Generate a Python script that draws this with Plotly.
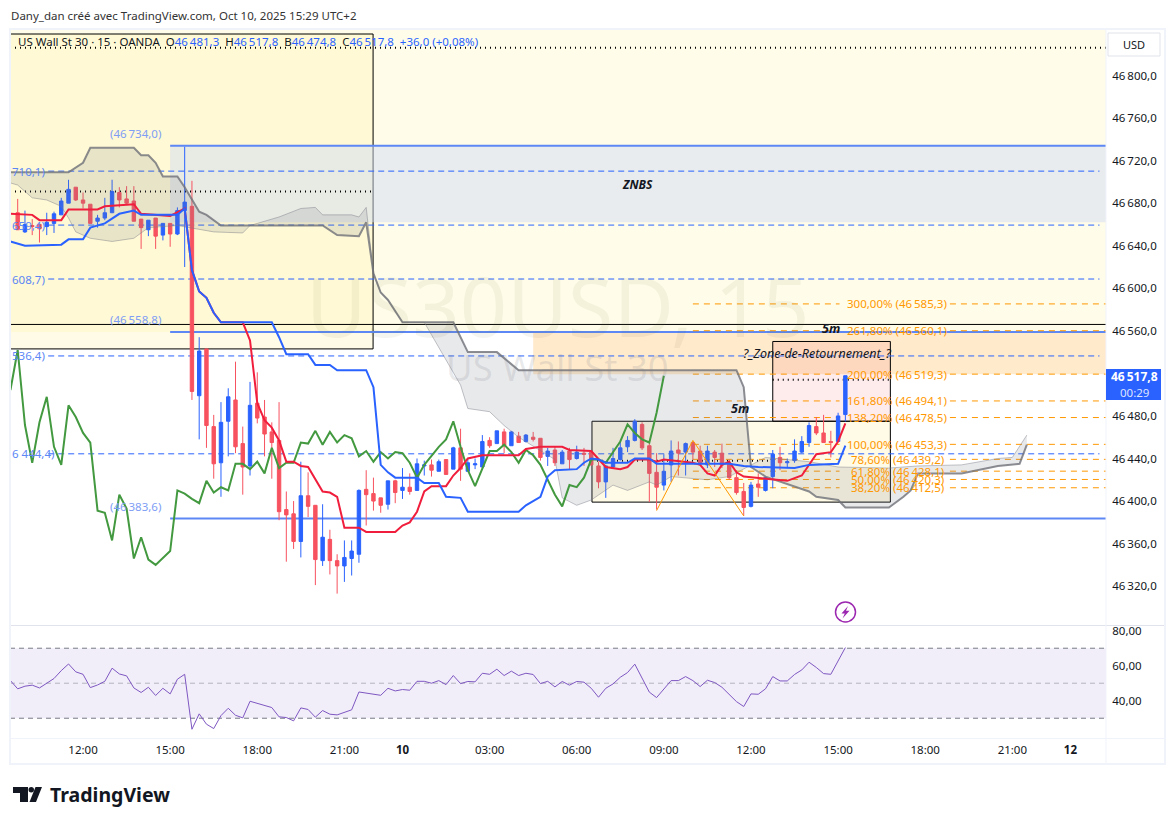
import plotly.graph_objects as go

W, H = 1175, 824
PRICE_BASE = 46000

# Bar index 0 is the 12:00 bar of Oct 9; first candle is index -9.
first_bar = -9
highs = [684,673,665,660,671,672,685,702,695,690,679,669,685,702,695,696,696,665,664,666,661,661,676,733,701,554,543,481,493,506,531,470,512,521,495,474,493,409,400,437,427,396,397,373,350,363,363,411,429,422,403,419,420,431,426,440,438,439,439,439,451,468,440,440,462,460,466,468,466,465,463,465,459,450,451,448,450,452,450,448,437,434,450,456,461,477,474,457,445,444,457,456,455,456,452,452,448,454,439,429,417,418,426,423,448,451,440,458,461,474,479,481,466,483,517.8]
body_tops = [671,660,659,660,662,670,682,693,695,683,679,666,671,691,690,684,682,665,664,666,661,661,673,681,677,541,543,470,474,498,495,454,490,492,479,465,457,392,388,405,405,396,366,364,344,347,353,410,411,407,403,419,419,413,413,435,434,434,437,439,450,450,436,435,456,457,466,465,465,461,462,460,459,447,448,446,447,446,445,446,433,433,440,450,457,475,472,452,427,428,447,448,454,455,447,447,446,445,435,422,409,415,416,422,444,441,437,447,456,471,470,464,456,480,517.8]
body_bottoms = [655,653,658,656,658,661,669,680,683,680,661,663,666,671,683,680,663,657,655,649,650,651,651,673,503,499,471,435,436,475,451,432,433,478,463,455,390,387,362,362,395,345,344,344,339,339,346,350,406,400,396,397,408,410,409,410,433,429,428,425,430,430,428,434,432,452,454,452,452,455,456,458,441,442,436,435,439,440,444,434,418,418,432,439,451,457,450,426,413,415,434,445,446,446,435,434,441,434,422,408,394,395,413,410,423,436,436,438,446,455,464,455,455,456,481.3]
lows = [655,652,650,643,650,652,669,680,682,675,661,657,664,671,676,679,663,637,649,637,645,639,650,620,495,458,450,421,404,442,445,406,424,473,442,421,382,343,355,347,385,321,339,331,313,324,330,342,377,391,389,392,398,402,406,410,424,423,428,425,430,419,428,430,432,450,454,445,452,455,455,456,438,433,433,435,430,439,433,433,412,403,431,438,446,456,448,399,392,410,418,424,424,439,434,431,432,431,420,406,386,394,404,409,412,429,431,436,445,451,462,455,441,456,474.8]
directions = ("rbrrbbbb" "rrr" "bbb" "rrrr" "b" "r" "b" "r" "bb" "r" "b" "rr" "bb" "rr" "b" "rrrrrr" "b" "rr" "b" "rr"
              "bbb" "rrr" "b" "r" "b" "r" "bb" "r" "b" "r" "b" "r" "bbb" "r" "b" "r" "b" "r" "b" "rr" "b" "r" "b" "r" "b"
              "rrr" "bbbbb" "rrr" "bb" "r" "b" "rr" "b" "rrrrr" "b" "r" "bb" "r" "bbbb" "rrr" "bb")

tenkan_bars = [-10,-7,-6,-3,-2,2,3,7,8,12,14,15,16,17,18,19,22,23,24,25,26,27,28,29,30,31,33,34,35,36,38,39,43,44,45,46,47,48,50,51,52,53,55,60,61,63,66,67,70,71,72,74,75,76,78,79,80,84,85,86,87,88,89,90,91,94,97,99,101,103,104,105]
tenkan = [670,669,664,664,674,674,677,679,670,668,675,617,597,591,577,568,568,551,492,476,469,457,437,437,433,432,409,408,404,375,375,371,371,377,380,390,409,414,414,424,431,440,443,443,449,451,451,448,447,440,432,430,432,439,439,437,439,436,434,426,424,434,437,427,423,421,419,424,444,446,456,473]
kijun_bars = [-10,-8,-3,-2,0,1,3,5,7,8,13,14,15,16,17,18,19,26,27,28,31,32,34,35,39,40,41,42,43,46,47,49,50,52,53,60,61,62,63,64,65,68,69,70,71,72,75,76,78,79,89,91,93,98,100,104,105]
kijun = [644,640,641,646,646,657,661,670,673,669,669,675,617,597,591,577,568,568,554,538,538,528,528,523,523,507,434,427,422,422,417,417,404,403,390,390,396,400,404,423,429,430,436,440,439,436,436,440,440,435,435,433,432,431,434,435,452]
chikou = [504.4,542,471.5,436,474,498,451,434,490,479,464,455,391,389,363,406,393,346,366,345,340,347,353,410,407,402,398,419,408,413,410,435,435,430,437,426,450,431,436,436,455,454,466,453,465,455,462,459,442,447,437,446,440,446,445,436,422,434,443,451,458,475,451,429,414,431,447,447,453,446,436,448,443,434,420,406,395,415,413,422,439,439,436,446,456,472,464,458,455,483,517.8]
span_b_bars = [-10,-2,0,1,7,8,9,10,11,13,14,16,17,19,33,35,38,39,40,41,42,44,51,53,57,60,90,91,92,94,100,101,104,105,111,113,114,115,121,126,129,130]
span_b = [709,709,718,732,732,725,725,718,705,705,695,672,669,659,659,650,649,662,614,596,589,568,568,540,540,523,523,507,432,423,409,404,401,394,394,404,410,426,426,433,435,453]
span_a_bars = [-10,-9,-7,-5,-3,-2,-1,1,4,7,9,13,18,22,23,27,30,32,33,37,38,39,40,41,42,44,47,48,50,51,52,53,56,58,60,65,66,68,70,73,75,78,79,81,86,89,92,94,97,100,104,111,115,121,126,128,130]
span_a = [699,697,685,683,677,666,653,647,644,647,657,659,653,652,659,667,675,676,669,669,667,676,614,596,589,568,568,556,533,521,509,487,484,471,460,439,403,396,401,415,410,418,415,423,420,423,434,441,439,437,432,431,433,434,440,441,462]
rsi = [51.5,46.8,48.3,48.9,47.3,49.8,52.7,57.2,61.0,56.5,55.1,47.5,49.0,51.1,58.6,55.3,54.2,47.3,44.7,47.7,43.0,47.1,43.9,52.3,55.1,23.7,32.5,26.6,24.1,31.5,35.7,31.7,30.2,39.7,38.4,37.0,36.1,30.8,30.4,28.5,35.9,35.0,30.6,34.4,32.3,31.9,33.4,34.8,45.0,44.3,43.7,43.1,47.1,45.6,46.4,46.0,51.1,51.1,50.0,51.5,49.2,54.4,49.8,51.0,50.8,55.7,55.1,58.0,54.4,56.9,54.4,55.7,55.0,49.8,51.1,47.9,51.0,48.9,51.0,50.6,47.1,42.0,47.1,49.6,53.4,56.1,60.9,52.9,44.9,41.8,46.4,51.5,51.5,53.8,51.5,48.1,51.7,50.4,47.7,43.5,39.5,36.7,43.9,43.7,46.8,53.8,51.3,51.3,55.0,57.6,62.0,59.0,55.5,55.1,62.8,70.4]

time_ticks = [0,12,24,36,44,56,68,80,92,104,116,128,136]
time_labels = ["12:00","15:00","18:00","21:00","<b>10</b>","03:00","06:00","09:00","12:00","15:00","18:00","21:00","<b>12</b>"]
price_ticks = [46320,46360,46400,46440,46480,46560,46600,46640,46680,46720,46760,46800]
rsi_ticks = [40,60,80]

fib_levels = [46585.3,46560.1,46519.3,46494.1,46478.5,46453.3,46439.2,46428.1,46420.3,46412.5]
fib_pct = ["300,00%","261,80%","200,00%","161,80%","138,20%","100,00%","78,60%","61,80%","50,00%","38,20%"]
solid_levels = [46734.0,46558.8,46383.6]
dashed_levels = [46710.1,46659.4,46608.7,46536.4,46444.4]
dashed_labels = ["710,1)","659,4)","608,7)","536,4)","6 444,4)"]
zigzag_bars = [79,84,91]
zigzag = [46391,46457,46386]

def offs(v):
    return [PRICE_BASE + a for a in v]
def price_text(v):
    s = f"{v:.1f}".replace(".", ",")
    return s[:2] + "\u2009" + s[2:]
def X(px):
    return px / W
def Y(py):
    return 1 - py / H

assert len(highs) == len(body_tops) == len(body_bottoms) == len(lows) == len(directions)
bars = list(range(first_bar, first_bar + len(highs)))
opens = [PRICE_BASE + (b if d == "b" else t) for t, b, d in zip(body_tops, body_bottoms, directions)]
closes = [PRICE_BASE + (t if d == "b" else b) for t, b, d in zip(body_tops, body_bottoms, directions)]

BLUE, RED = "#2962FF", "#F7525F"
XMIN, XMAX = -10.06, 140.9
F = "Noto Sans"

fig = go.Figure()
fig.add_trace(go.Scatter(x=span_a_bars, y=offs(span_a), mode="lines", line=dict(color="rgba(120,123,134,0.45)", width=1)))
fig.add_trace(go.Scatter(x=span_b_bars, y=offs(span_b), mode="lines", line=dict(color="rgba(110,112,120,0.8)", width=2),
                         fill="tonexty", fillcolor="rgba(120,123,134,0.17)"))
fig.add_trace(go.Scatter(x=list(range(-10, -10 + len(chikou))), y=offs(chikou), mode="lines", line=dict(color="#43993f", width=2)))
fig.add_trace(go.Scatter(x=tenkan_bars, y=offs(tenkan), mode="lines", line=dict(color="#F01E3C", width=2)))
fig.add_trace(go.Scatter(x=kijun_bars, y=offs(kijun), mode="lines", line=dict(color="#2962FF", width=2)))
fig.add_trace(go.Scatter(x=zigzag_bars, y=zigzag, mode="lines", line=dict(color="#FF9800", width=1)))
fig.add_trace(go.Candlestick(x=bars, open=opens, high=offs(highs), low=offs(lows), close=closes,
    increasing=dict(line=dict(color=BLUE, width=1), fillcolor=BLUE),
    decreasing=dict(line=dict(color=RED, width=1), fillcolor=RED), hoverinfo="skip"))
fig.add_trace(go.Scatter(x=list(range(-10, -10 + len(rsi))), y=rsi, mode="lines", line=dict(color="#7E57C2", width=1), xaxis="x2", yaxis="y2"))

shapes = []
def rect(x0, x1, y0, y1, fill, line=None, layer="below", lw=1):
    shapes.append(dict(type="rect", xref="x", yref="y", x0=x0, x1=x1, y0=y0, y1=y1, fillcolor=fill,
                       line=dict(color=line or "rgba(0,0,0,0)", width=lw if line else 0), layer=layer))
def hline(x0, x1, y, color, width=1, dash="solid", yref="y", xref="x"):
    shapes.append(dict(type="line", xref=xref, yref=yref, x0=x0, x1=x1, y0=y, y1=y, line=dict(color=color, width=width, dash=dash), layer="below"))

rect(XMIN, XMAX, 46558.8, 46843.7, "#FFFDE9")
rect(XMIN, 39.95, 46543, 46839, "rgba(255,235,120,0.18)", "#000000")
rect(12, XMAX, 46662, 46734, "rgba(209,219,243,0.5)")
rect(62, XMAX, 46519.3, 46558.8, "rgba(255,152,0,0.2)")
rect(95, 111.2, 46475, 46550, "rgba(242,54,69,0.1)", "#000000")
rect(70.1, 111.2, 46399, 46475, "rgba(255,235,120,0.18)", "#000000")
hline(XMIN, XMAX, 46566, "#000000", 1)
hline(XMIN, XMAX, 46826, "#000000", 2, "1px,4px")
hline(XMIN, 39.95, 46691, "#000000", 2, "1px,4px")
hline(95, 111.2, 46514, "#000000", 2, "1px,4px")
hline(70.1, 95, 46438, "#000000", 2, "1px,4px")
for v in solid_levels:
    hline(12, XMAX, v, "#5C87F5", 2)
for v in dashed_levels:
    hline(-4.8, 140, v, "#2962FF", 1, "6px,4px")
for v in fib_levels:
    hline(84, 104.2, v, "#FF9800", 1, "6px,5px")
    hline(119.4, XMAX, v, "#FF9800", 1, "6px,5px")
shapes.append(dict(type="rect", xref="x2", yref="y2", x0=XMIN, x1=XMAX, y0=30, y1=70, fillcolor="rgba(126,87,194,0.1)", line=dict(width=0), layer="below"))
hline(XMIN, XMAX, 70, "#787B86", 1, "5px,4px", "y2", "x2")
hline(XMIN, XMAX, 30, "#787B86", 1, "5px,4px", "y2", "x2")
hline(XMIN, XMAX, 50, "rgba(120,123,134,0.5)", 1, "5px,4px", "y2", "x2")

def pline(x0, y0, x1, y1, color="#E0E3EB", width=1):
    shapes.append(dict(type="line", xref="paper", yref="paper", x0=X(x0), x1=X(x1), y0=Y(y0), y1=Y(y1), line=dict(color=color, width=width), layer="above"))
pline(10, 625.5, 1165, 625.5)
pline(1106, 29, 1106, 764, "#F0F3FA")
pline(10, 738.5, 1165, 738.5, "#F0F3FA")
shapes.append(dict(type="rect", xref="paper", yref="paper", x0=X(10), x1=X(1165), y0=Y(764), y1=Y(29), line=dict(color="#F0F3FA", width=2), layer="above"))
shapes.append(dict(type="rect", xref="paper", yref="paper", x0=X(1108), x1=X(1160), y0=Y(56), y1=Y(33), line=dict(color="#E0E3EB", width=1), fillcolor="#FFFFFF", layer="above"))
shapes.append(dict(type="rect", xref="paper", yref="paper", x0=X(1106), x1=X(1161), y0=Y(400), y1=Y(369), line=dict(width=0), fillcolor=BLUE, layer="above"))
shapes.append(dict(type="circle", xref="paper", yref="paper", x0=X(835.5), x1=X(855.5), y0=Y(622), y1=Y(602), line=dict(color="#9C27B0", width=1.5), fillcolor="#FFFFFF", layer="above"))

def poly(pts):
    return "M" + " L".join(f"{X(a):.5f},{Y(b):.5f}" for a, b in pts) + " Z"
shapes.append(dict(type="path", xref="paper", yref="paper", fillcolor="#9C27B0", line=dict(width=0), layer="above",
                   path=poly([(848,606),(841.5,613.5),(844.8,613.5),(842.5,618.5),(849.5,610.8),(846,610.8)])))
for p in (poly([(13,787),(28,787),(28,802),(20,802),(20,793),(13,793)]),
          poly([(35.5,787),(42,787),(36,802),(29.5,802)])):
    shapes.append(dict(type="path", xref="paper", yref="paper", path=p, fillcolor="#131722", line=dict(width=0), layer="above"))
shapes.append(dict(type="circle", xref="paper", yref="paper", x0=X(28.5), x1=X(34), y0=Y(792.5), y1=Y(787), fillcolor="#131722", line=dict(width=0), layer="above"))

ann = []
def t(x, y, text, size=11.5, color="#131722", anchor="left", **kw):
    ann.append(dict(xref="paper", yref="paper", x=X(x), y=Y(y), text=text, showarrow=False, xanchor=anchor, yanchor="middle",
                    font=dict(family=F, size=size, color=color), **kw))
def td(x, y, text, size=11.5, color="#FF9800", anchor="left"):
    ann.append(dict(xref="x", yref="y", x=x, y=y, text=text, showarrow=False, xanchor=anchor, yanchor="middle",
                    font=dict(family=F, size=size, color=color)))

t(9, 15, "Dany_dan créé avec TradingView.com, Oct 10, 2025 15:29 UTC+2", 11.5, "#333333")
V = "#2962FF"
t(16, 42, f"US Wall St 30 · 15 · OANDA  O<span style='color:{V}'>46\u2009481,3</span>  H<span style='color:{V}'>46\u2009517,8</span>  B<span style='color:{V}'>46\u2009474,8</span>  C<span style='color:{V}'>46\u2009517,8</span>  <span style='color:{V}'>+36,0 (+0,08%)</span>", 11.5, "#131722")
t(557, 304, "US30USD, 15", 83, "rgba(120,110,60,0.08)", "center")
t(557, 367, "US Wall St 30", 36.5, "rgba(120,123,134,0.16)", "center")
for v in solid_levels:
    td(3.4, v + 11.5, f"({price_text(v)})", 11.5, "#7E9DF5", "left")
for v, s in zip(dashed_levels, dashed_labels):
    td(XMIN, v, s, 11.5, "#5C87F5", "left")
for v, p in zip(fib_levels, fib_pct):
    td(105.0 if len(p) == 7 else 105.5, v, f"{p} ({price_text(v)})", 11.5)
t(831, 328, "<b><i>5m</i></b>", 12.5, "#131722", "center")
t(740, 409, "<b><i>5m</i></b>", 12.5, "#131722", "center")
t(637, 184, "<b><i>ZNBS</i></b>", 12, "#131722", "center")
t(817, 354, "<i>?_Zone-de-Retournement_?</i>", 12.5, "#131722", "center")
t(1134, 44.5, "USD", 11, "#131722", "center")
t(1134, 377, "<b>46\u2009517,8</b>", 12, "#FFFFFF", "center")
t(1134, 392, "00:29", 11.5, "rgba(255,255,255,0.85)", "center")
t(48, 794, "<b>TradingView</b>", 19.5, "#131722", "left")

axis_font = dict(family=F, size=11.5, color="#131722")
fig.update_layout(
    width=W, height=H, autosize=False, margin=dict(l=0, r=0, t=0, b=0, autoexpand=False),
    paper_bgcolor="#FFFFFF", plot_bgcolor="#FFFFFF", showlegend=False, hovermode=False, boxgap=0.33,
    xaxis=dict(domain=[X(10), X(1106)], range=[XMIN, XMAX], showgrid=False, zeroline=False, showticklabels=False,
               rangeslider=dict(visible=False), ticks="", anchor="y"),
    yaxis=dict(domain=[Y(625), Y(29)], range=[46283.5, 46843.7], side="right", anchor="x", showgrid=False, zeroline=False,
               tickvals=price_ticks, ticktext=[price_text(v) for v in price_ticks], tickfont=axis_font, ticks="outside", ticklen=3, tickcolor="rgba(0,0,0,0)"),
    xaxis2=dict(domain=[X(10), X(1106)], range=[XMIN, XMAX], showgrid=False, zeroline=False, anchor="y2",
                tickvals=time_ticks, ticktext=time_labels, tickfont=axis_font, ticks="outside", ticklen=1, tickcolor="rgba(0,0,0,0)"),
    yaxis2=dict(domain=[Y(738), Y(626)], range=[18.7, 82.7], side="right", anchor="x2", showgrid=False, zeroline=False,
                tickvals=rsi_ticks, ticktext=[f"{v},00" for v in rsi_ticks], tickfont=axis_font, ticks="outside", ticklen=3, tickcolor="rgba(0,0,0,0)"),
    shapes=shapes, annotations=ann,
)
fig.write_html("out.html", config=dict(displayModeBar=False), post_script="document.body.style.margin='0';")
